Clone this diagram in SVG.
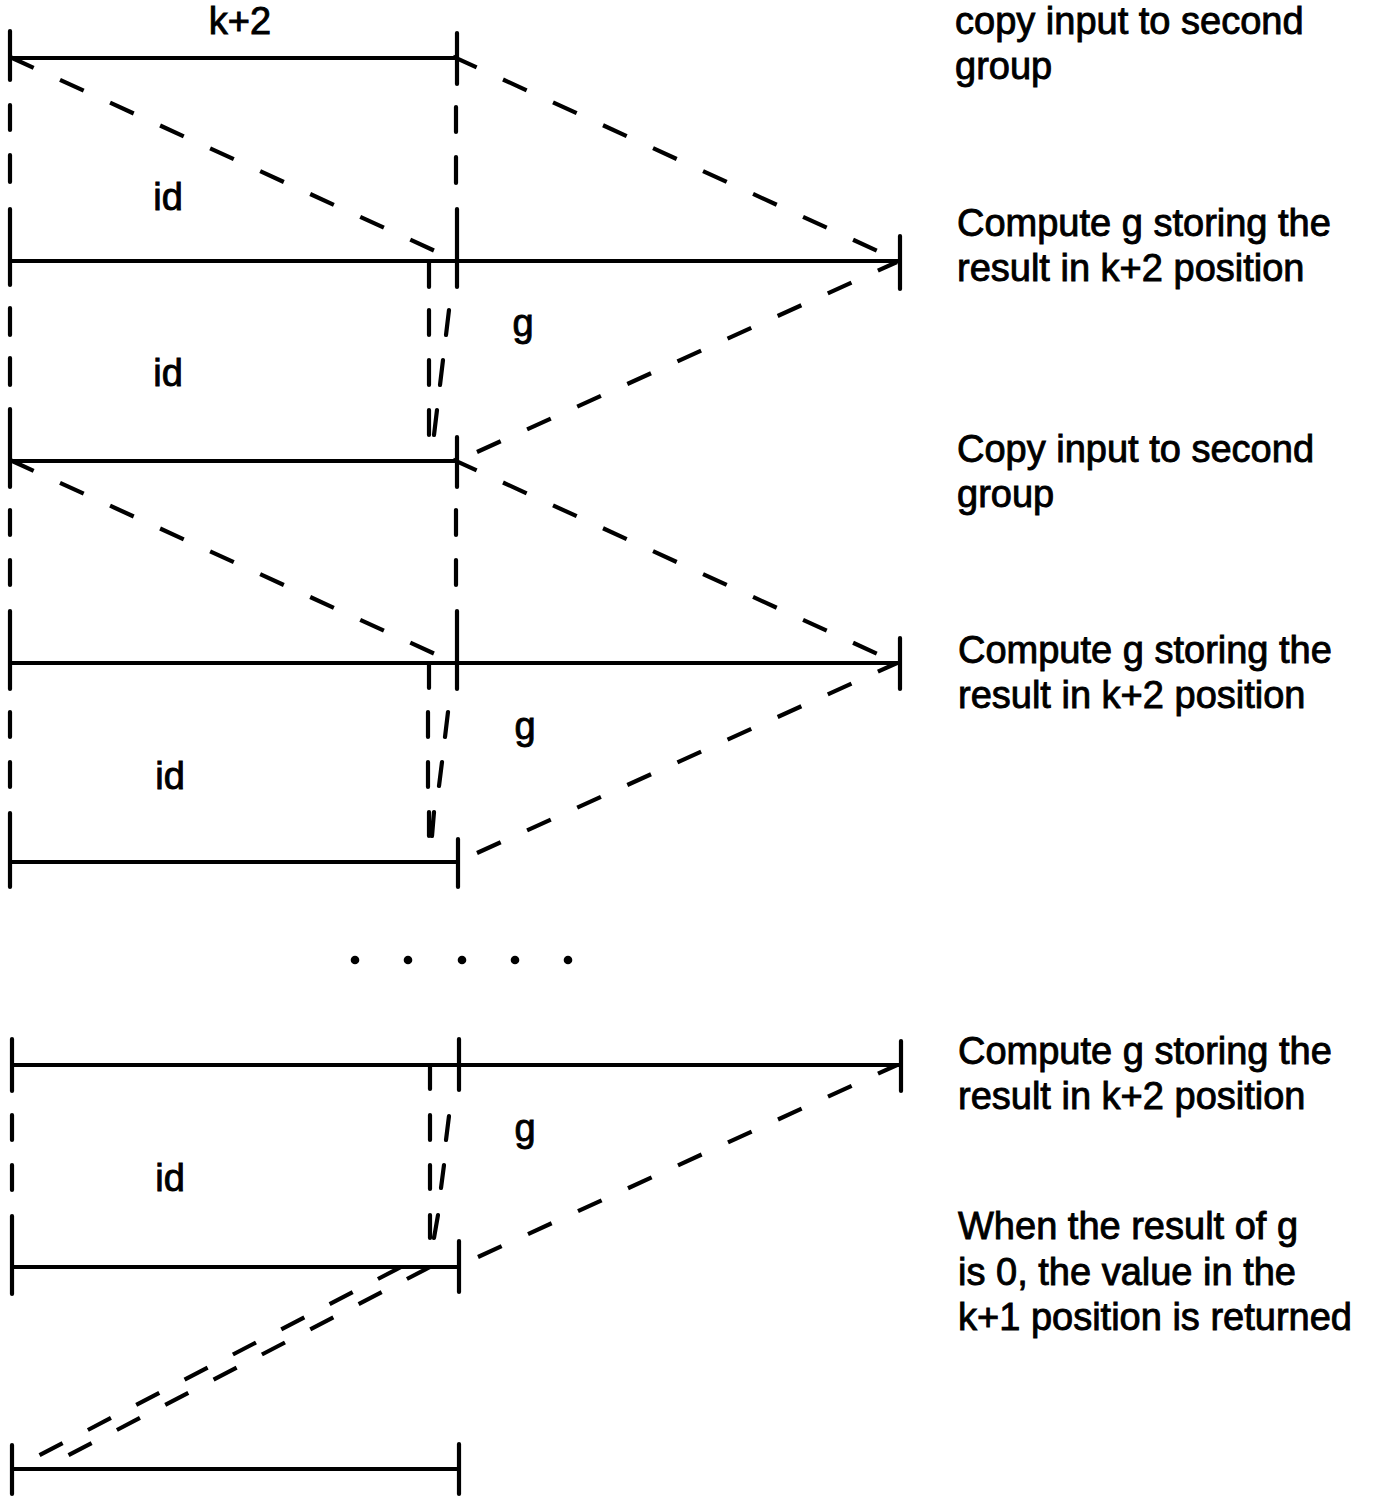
<svg xmlns="http://www.w3.org/2000/svg" width="1375" height="1497" viewBox="0 0 1375 1497">
<style>
.bar{stroke:#000;stroke-width:3.8;fill:none;stroke-linecap:butt}
.tick{stroke:#000;stroke-width:4.2;fill:none;stroke-linecap:round}
.seg{stroke:#000;stroke-width:4.2;fill:none;stroke-linecap:round}
.dash{stroke:#000;stroke-width:4.2;fill:none;stroke-dasharray:26 29;stroke-linecap:butt}
.dash2{stroke:#000;stroke-width:4.2;fill:none;stroke-dasharray:26 28.5;stroke-linecap:butt}
text{font-family:"Liberation Sans",Arial,Helvetica,sans-serif;font-size:38px;fill:#000;stroke:#000;stroke-width:0.9}
.lbl{text-anchor:middle}
</style>
<rect width="1375" height="1497" fill="#fff"/>

<g id="bar-a">
<line class="bar" x1="10" y1="58" x2="457" y2="58"/>
<line class="tick" x1="10" y1="31" x2="10" y2="80"/>
<line class="tick" x1="457" y1="33" x2="457" y2="84"/>
</g>
<g id="bar-b">
<line class="bar" x1="10" y1="261" x2="900" y2="261"/>
<line class="tick" x1="10" y1="209" x2="10" y2="285"/>
<line class="tick" x1="457" y1="209" x2="457" y2="287"/>
<line class="tick" x1="429" y1="263" x2="429" y2="287"/>
<line class="tick" x1="900" y1="236" x2="900" y2="289"/>
</g>
<g id="bar-c">
<line class="bar" x1="10" y1="461" x2="457" y2="461"/>
<line class="tick" x1="10" y1="409" x2="10" y2="487"/>
<line class="tick" x1="457" y1="437" x2="457" y2="487"/>
</g>
<g id="bar-d">
<line class="bar" x1="10" y1="663" x2="900" y2="663"/>
<line class="tick" x1="10" y1="611" x2="10" y2="689"/>
<line class="tick" x1="457" y1="611" x2="457" y2="689"/>
<line class="tick" x1="429" y1="665" x2="429" y2="688"/>
<line class="tick" x1="900" y1="638" x2="900" y2="689"/>
</g>
<g id="bar-e">
<line class="bar" x1="10" y1="862" x2="458" y2="862"/>
<line class="tick" x1="10" y1="813" x2="10" y2="887"/>
<line class="tick" x1="458" y1="839" x2="458" y2="887"/>
</g>
<g id="bar-f">
<line class="bar" x1="11" y1="1065" x2="901" y2="1065"/>
<line class="tick" x1="12" y1="1039" x2="12" y2="1091"/>
<line class="tick" x1="459" y1="1039" x2="459" y2="1090"/>
<line class="tick" x1="430" y1="1067" x2="430" y2="1089"/>
<line class="tick" x1="901" y1="1041" x2="901" y2="1091"/>
</g>
<g id="bar-g">
<line class="bar" x1="11" y1="1267" x2="459" y2="1267"/>
<line class="tick" x1="12" y1="1216" x2="12" y2="1294"/>
<line class="tick" x1="459" y1="1241" x2="459" y2="1292"/>
</g>
<g id="bar-h">
<line class="bar" x1="11" y1="1469" x2="459" y2="1469"/>
<line class="tick" x1="12" y1="1445" x2="12" y2="1494"/>
<line class="tick" x1="459" y1="1444" x2="459" y2="1494"/>
</g>

<g id="labels-diagram">
<text class="lbl" x="240" y="34">k+2</text>
<text class="lbl" x="168" y="210">id</text>
<text class="lbl" x="168" y="386">id</text>
<text class="lbl" x="170" y="789">id</text>
<text class="lbl" x="170" y="1191">id</text>
<text class="lbl" x="523" y="336">g</text>
<text class="lbl" x="525" y="739">g</text>
<text class="lbl" x="525" y="1141">g</text>
</g>

<g id="notes">
<text x="955" y="34">copy input to second</text>
<text x="955" y="79">group</text>
<text x="957" y="236">Compute g storing the</text>
<text x="957" y="281">result in k+2 position</text>
<text x="957" y="462">Copy input to second</text>
<text x="957" y="507">group</text>
<text x="958" y="663">Compute g storing the</text>
<text x="958" y="708">result in k+2 position</text>
<text x="958" y="1064">Compute g storing the</text>
<text x="958" y="1109">result in k+2 position</text>
<text x="958" y="1239">When the result of g</text>
<text x="958" y="1285">is 0, the value in the</text>
<text x="958" y="1330">k+1 position is returned</text>
</g>

<g id="connectors">
<path class="seg" d="M10 105V130M10 155V182M10 308V335M10 358V385M10 510V535M10 560V585M10 712V737M10 762V787M12 1115V1140M12 1165V1190"/>
<path class="seg" d="M456 107V132M456 157V183M456 510V535M456 560V585"/>
<path class="seg" d="M429 310V335M429 360V385M429 410V435M449 310L446 335M443 360L440 385M437 410L434 435"/>
<path class="seg" d="M428 712V737M428 762V787M429 812V836M448 712L445 737M442 762L439 786M434 812L432 836"/>
<path class="seg" d="M430 1115V1140M430 1165V1189M430 1215V1238M449 1116L446 1140M444 1165L441 1188M438 1215L434 1238"/>
<path class="dash" d="M10 57L435 251"/>
<path class="dash" d="M453 56.6L893 258"/>
<path class="dash" d="M477 452L897 262"/>
<path class="dash" d="M10 460L435 654"/>
<path class="dash" d="M453 459.6L893 661"/>
<path class="dash" d="M477 853L897 663"/>
<path class="dash" d="M478 1257L897 1065"/>
<path class="dash2" d="M401 1267L36 1457"/>
<path class="dash2" d="M430 1267L65 1457"/>
</g>

<g id="ellipsis">
<circle cx="355" cy="960" r="4.3"/>
<circle cx="408" cy="960" r="4.3"/>
<circle cx="462" cy="960" r="4.3"/>
<circle cx="515" cy="960" r="4.3"/>
<circle cx="568" cy="960" r="4.3"/>
</g>
</svg>
